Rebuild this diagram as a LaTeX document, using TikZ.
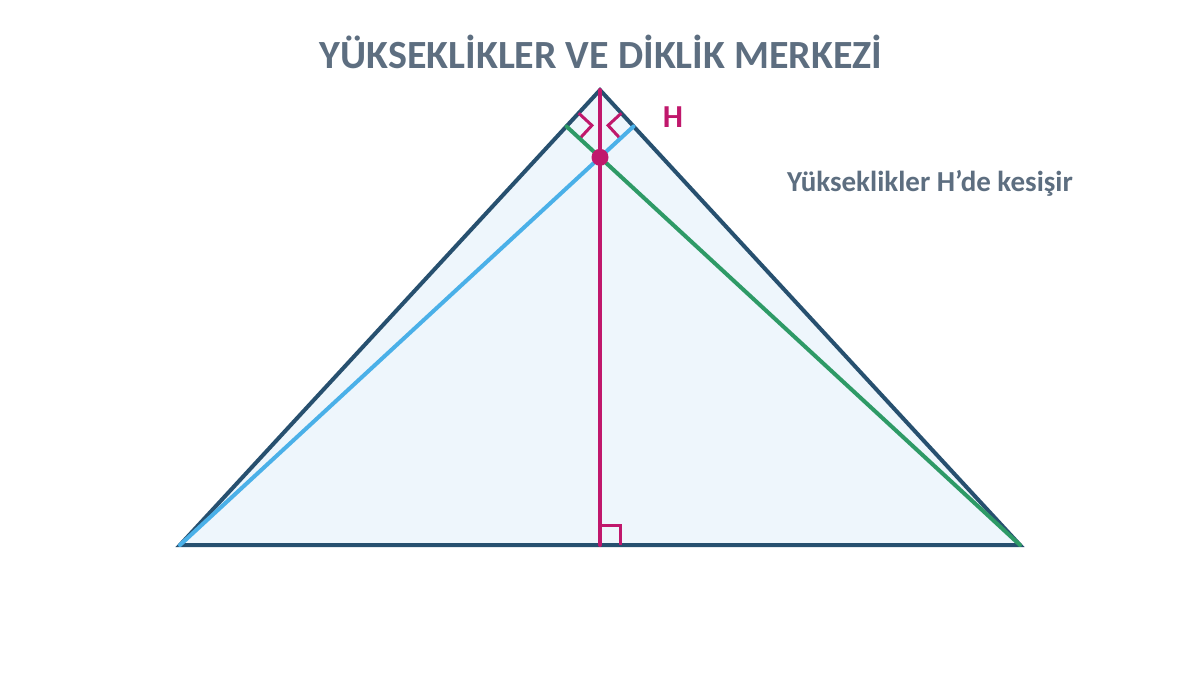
\documentclass[tikz,border=0pt]{standalone}
\usepackage{fontspec}
\setmainfont{Carlito}
\definecolor{edge}{HTML}{27506F}
\definecolor{fillc}{HTML}{EEF6FC}
\definecolor{altb}{HTML}{4AB0E8}
\definecolor{altg}{HTML}{2E9A66}
\definecolor{altm}{HTML}{C0186C}
\definecolor{txt}{HTML}{5D6E80}
\tikzset{
  tri/.style={draw=edge,line width=4pt,fill=fillc,line join=miter},
  alt/.style={line width=4pt,line cap=round},
  rmark/.style={line width=3pt},
  lbl/.style={font=\bfseries,text=txt,inner sep=0pt},
}
\begin{document}
\begin{tikzpicture}[x=1pt,y=-1pt]
\useasboundingbox (0,0) rectangle (1200,675);
\coordinate (A) at (180,545);
\coordinate (B) at (1020,545);
\coordinate (C) at (600,90);
\coordinate (H) at (600,157.3);
\coordinate (Fa) at (633.5,126.4);
\coordinate (Fb) at (566.5,126.4);
\coordinate (Fc) at (600,545);
\draw[tri] (A) -- (B) -- (C) -- cycle;
% right angle marks
\draw[altm,rmark] (578.7,113.2) -- (591.9,125.4) -- (579.7,138.6);
\draw[altm,rmark] (621.3,113.2) -- (608.1,125.4) -- (620.3,138.6);
\draw[altm,rmark] (600,525) -- (620,525) -- (620,545);
% altitudes
\draw[alt,altb] (A) -- (Fa);
\draw[alt,altg] (B) -- (Fb);
\draw[alt,altm] (C) -- (Fc);
\fill[altm] (H) circle (8.5);
\node[lbl,font=\bfseries\fontsize{40}{46}\selectfont] (title) at (601,52) {YÜKSEKLİKLER VE DİKLİK MERKEZİ};
\node[lbl,text=altm,font=\bfseries\fontsize{32}{36}\selectfont] (hl) at (673,117) {H};
\node[lbl,font=\bfseries\fontsize{29}{33}\selectfont] (note) at (930,183) {Yükseklikler H’de kesişir};
\end{tikzpicture}
\end{document}
